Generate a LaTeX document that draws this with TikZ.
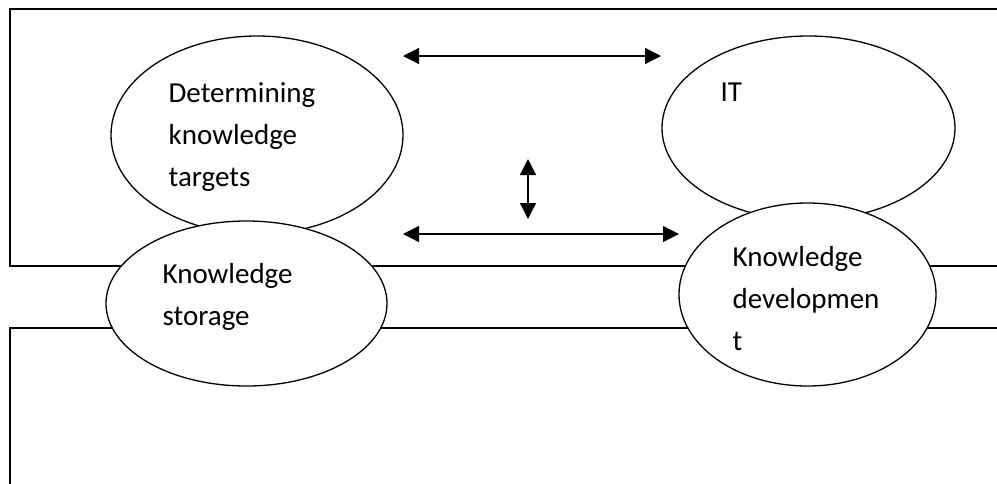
\documentclass[tikz,border=0pt]{standalone}
\usepackage{fontspec}
\setmainfont{Carlito}
\usetikzlibrary{shapes.geometric,arrows.meta}
\begin{document}
\begin{tikzpicture}[x=1pt,y=-1pt,line width=1.3pt,
  bubble/.style={draw,ellipse,fill=white,inner sep=0pt},
  lbl/.style={anchor=north west,inner sep=0pt,align=left,
              font=\fontsize{29}{42}\selectfont},
  link/.style={{Triangle[length=16pt,width=16pt]}-{Triangle[length=16pt,width=16pt]}}]
  \useasboundingbox (0,0) rectangle (997,483);
  % frame lines
  \draw (997,9) -- (10,9) -- (10,266) -- (997,266);
  \draw (997,328) -- (10,328) -- (10,490);
  % upper bubbles
  \node[bubble,minimum width=292pt,minimum height=198pt] (targets) at (257,135) {};
  \node[bubble,minimum width=293pt,minimum height=184pt] (it) at (808.5,128) {};
  % lower bubbles, drawn over the frame lines
  \node[bubble,minimum width=281pt,minimum height=165pt] (storage) at (246.5,303.5) {};
  \node[bubble,minimum width=257pt,minimum height=183pt] (devel) at (807.5,294.5) {};
  % labels
  \node[lbl] (targetsText) at (168,82) {Determining\\knowledge\\targets};
  \node[lbl] (itText) at (720,82) {IT};
  \node[lbl] (storageText) at (162,263) {Knowledge\\storage};
  \node[lbl] (develText) at (732,246) {Knowledge\\developmen\\t};
  % arrows
  \coordinate (topL) at (403,56);
  \coordinate (topR) at (661,56);
  \coordinate (lowL) at (403,234);
  \coordinate (lowR) at (679,234);
  \coordinate (vUp) at (528,159);
  \coordinate (vDown) at (528,219);
  \draw[link] (topL) -- (topR);
  \draw[link] (lowL) -- (lowR);
  \draw[link] (vUp) -- (vDown);
\end{tikzpicture}
\end{document}
